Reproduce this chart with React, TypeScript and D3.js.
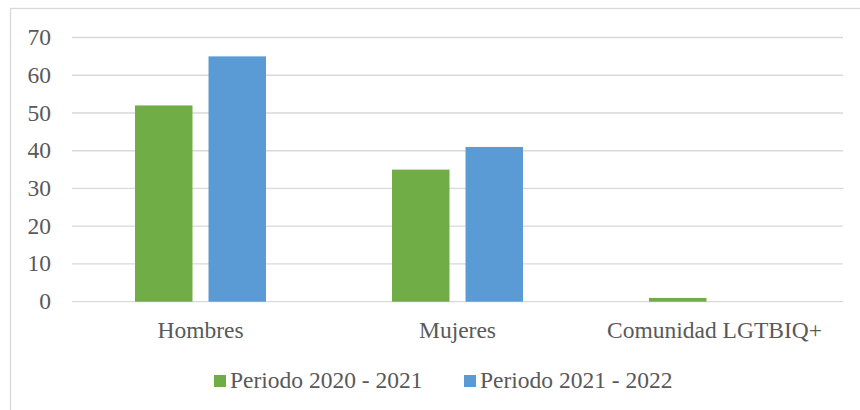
import * as d3 from 'd3';
import React, { useEffect, useRef } from 'react';

// Data
const categories = ['Hombres', 'Mujeres', 'Comunidad LGTBIQ+'];
const seriesNames = ['Periodo 2020 - 2021', 'Periodo 2021 - 2022'];
const periodo2020 = [52, 35, 1];
const periodo2021 = [65, 41, 0];
const yTicks = [0, 10, 20, 30, 40, 50, 60, 70];
const seriesColors = ['#70AD47', '#5B9BD5'];

const WIDTH = 860;
const HEIGHT = 410;

export default function App() {
  const svgRef = useRef<SVGSVGElement | null>(null);

  useEffect(() => {
    const svg = d3.select(svgRef.current);
    svg.selectAll('*').remove();

    const textColor = '#595959';
    const gridColor = '#D9D9D9';
    const font = "'Liberation Serif', 'Times New Roman', Times, 'DejaVu Serif', serif";
    const fontSize = 23.5;

    // Plot area
    const plot = { left: 72, right: 843, top: 37.5, bottom: 301.7 };

    const values = [periodo2020, periodo2021];
    const rows = categories.map((c, i) => ({
      category: c,
      values: seriesNames.map((s, j) => ({ series: s, idx: j, value: values[j][i] }))
    }));

    const x0 = d3
      .scaleBand<string>()
      .domain(categories)
      .range([plot.left, plot.right])
      .padding(0);

    const x1 = d3
      .scaleBand<string>()
      .domain(seriesNames)
      .range([0, x0.bandwidth()])
      .paddingInner(0.218)
      .paddingOuter(0.857);

    const y = d3
      .scaleLinear()
      .domain([0, 70])
      .range([plot.bottom, plot.top]);

    svg
      .attr('width', WIDTH)
      .attr('height', HEIGHT)
      .attr('font-family', font)
      .attr('font-size', fontSize);

    svg
      .append('rect')
      .attr('x', 0)
      .attr('y', 0)
      .attr('width', WIDTH)
      .attr('height', HEIGHT)
      .attr('fill', '#ffffff');

    // chart border (right and bottom edges fall outside the picture)
    svg
      .append('rect')
      .attr('x', 10.5)
      .attr('y', 8.5)
      .attr('width', WIDTH + 20)
      .attr('height', HEIGHT + 20)
      .attr('fill', 'none')
      .attr('stroke', gridColor)
      .attr('stroke-width', 1.3);

    // gridlines
    svg
      .append('g')
      .selectAll('line')
      .data(yTicks)
      .enter()
      .append('line')
      .attr('x1', plot.left)
      .attr('x2', plot.right)
      .attr('y1', (d) => y(d))
      .attr('y2', (d) => y(d))
      .attr('stroke', gridColor)
      .attr('stroke-width', 1.3);

    // y tick labels
    svg
      .append('g')
      .selectAll('text')
      .data(yTicks)
      .enter()
      .append('text')
      .attr('x', 51)
      .attr('y', (d) => y(d))
      .attr('dy', '0.32em')
      .attr('text-anchor', 'end')
      .attr('fill', textColor)
      .text((d) => d);

    // bars
    const groups = svg
      .append('g')
      .selectAll('g')
      .data(rows)
      .enter()
      .append('g')
      .attr('transform', (d) => `translate(${x0(d.category)},0)`);

    groups
      .selectAll('rect')
      .data((d) => d.values)
      .enter()
      .append('rect')
      .attr('x', (d) => x1(d.series)!)
      .attr('y', (d) => y(d.value))
      .attr('width', x1.bandwidth())
      .attr('height', (d) => y(0) - y(d.value))
      .attr('fill', (d) => seriesColors[d.idx]);

    // category labels
    svg
      .append('g')
      .selectAll('text')
      .data(categories)
      .enter()
      .append('text')
      .attr('x', (d) => x0(d)! + x0.bandwidth() / 2)
      .attr('y', 338)
      .attr('text-anchor', 'middle')
      .attr('fill', textColor)
      .text((d) => d);

    // legend
    const legendX = [214, 464];
    const legend = svg
      .append('g')
      .selectAll('g')
      .data(seriesNames)
      .enter()
      .append('g')
      .attr('transform', (_, i) => `translate(${legendX[i]},375)`);

    legend
      .append('rect')
      .attr('width', 12)
      .attr('height', 12)
      .attr('fill', (_, i) => seriesColors[i]);

    legend
      .append('text')
      .attr('x', 16)
      .attr('y', 13)
      .attr('fill', textColor)
      .text((d) => d);
  }, []);

  return (
    <div style={{ position: 'absolute', left: 0, top: 0, width: WIDTH, height: HEIGHT, overflow: 'hidden' }}>
      <svg ref={svgRef} style={{ display: 'block' }} />
    </div>
  );
}
